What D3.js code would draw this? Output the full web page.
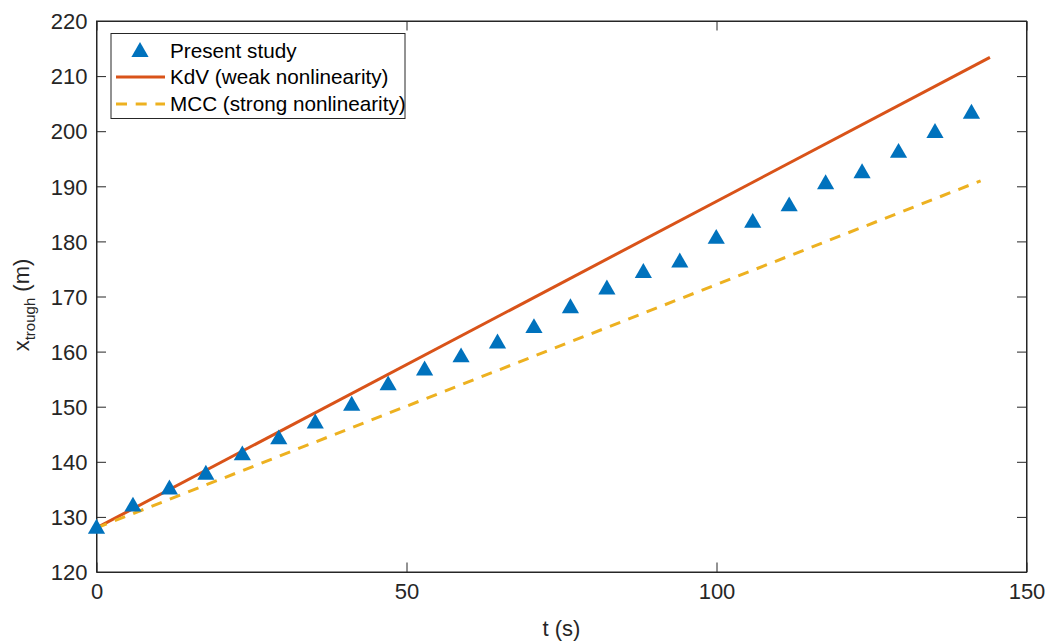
<!DOCTYPE html>
<html>
<head>
<meta charset="utf-8">
<script src="https://cdn.jsdelivr.net/npm/d3@7"></script>
<style>
  html, body { margin: 0; padding: 0; background: #fff; }
  svg { display: block; font-family: "Liberation Sans", Arial, Helvetica, sans-serif; }
</style>
</head>
<body>
<svg id="chart" width="1050" height="644"></svg>
<script>
// Trough position over time: simulated points and two analytic predictions
const tPresent = [0, 5.88, 11.76, 17.64, 23.52, 29.4, 35.28, 41.16, 47.04, 52.92,
                  58.8, 64.68, 70.56, 76.44, 82.32, 88.2, 94.08, 99.96, 105.84,
                  111.72, 117.6, 123.48, 129.36, 135.24, 141.12];
const xPresent = [128.1, 132.1, 135.2, 137.9, 141.4, 144.3, 147.2, 150.4, 154.1, 156.8,
                  159.2, 161.7, 164.5, 168.1, 171.5, 174.5, 176.4, 180.7, 183.6,
                  186.6, 190.6, 192.6, 196.3, 199.9, 203.4];
const tKdV = [0, 144.1];
const xKdV = [128.0, 213.4];
const tMCC = [0, 142.6];
const xMCC = [128.0, 191.0];

const xTicks = [0, 50, 100, 150];
const yTicks = [120, 130, 140, 150, 160, 170, 180, 190, 200, 210, 220];
const legendLabels = ["Present study", "KdV (weak nonlinearity)", "MCC (strong nonlinearity)"];

const colors = { present: "#0072BD", kdv: "#D95319", mcc: "#EDB120", axis: "#262626" };

const plot = { left: 96.5, right: 1026.5, top: 21, bottom: 572 };
const svg = d3.select("#chart");

const x = d3.scaleLinear().domain([0, 150]).range([plot.left, plot.right]);
const y = d3.scaleLinear().domain([120, 220]).range([plot.bottom, plot.top]);

const tickLen = 9.5;
const tickFont = 22;
const dash = "11,8.7";

// Axes with inward ticks on all four sides
const gBottom = svg.append("g").attr("transform", `translate(0,${plot.bottom})`)
  .call(d3.axisBottom(x).tickValues(xTicks).tickSizeInner(-tickLen).tickSizeOuter(0));
const gTop = svg.append("g").attr("transform", `translate(0,${plot.top})`)
  .call(d3.axisTop(x).tickValues(xTicks).tickSizeInner(-tickLen).tickSizeOuter(0).tickFormat(""));
const gLeft = svg.append("g").attr("transform", `translate(${plot.left},0)`)
  .call(d3.axisLeft(y).tickValues(yTicks).tickSizeInner(-tickLen).tickSizeOuter(0).tickPadding(9));
const gRight = svg.append("g").attr("transform", `translate(${plot.right},0)`)
  .call(d3.axisRight(y).tickValues(yTicks).tickSizeInner(-tickLen).tickSizeOuter(0).tickFormat(""));

[gBottom, gTop, gLeft, gRight].forEach(g => {
  g.select(".domain").attr("stroke", colors.axis).attr("stroke-width", 1);
  g.selectAll(".tick line").attr("stroke", colors.axis).attr("stroke-width", 1);
  g.selectAll(".tick text")
    .attr("fill", colors.axis)
    .attr("font-size", tickFont)
    .attr("font-family", "Liberation Sans, Arial, Helvetica, sans-serif");
});
gBottom.selectAll(".tick text").attr("dy", "0.71em").attr("y", 11);
gLeft.selectAll(".tick text").attr("dy", "0.35em");

// Frame
svg.append("rect")
  .attr("x", plot.left).attr("y", plot.top)
  .attr("width", plot.right - plot.left).attr("height", plot.bottom - plot.top)
  .attr("fill", "none").attr("stroke", colors.axis).attr("stroke-width", 1);

// Prediction lines
const line = d3.line().x(d => x(d[0])).y(d => y(d[1]));
svg.append("path")
  .datum(d3.zip(tKdV, xKdV))
  .attr("d", line)
  .attr("fill", "none").attr("stroke", colors.kdv).attr("stroke-width", 3);
svg.append("path")
  .datum(d3.zip(tMCC, xMCC))
  .attr("d", line)
  .attr("fill", "none").attr("stroke", colors.mcc).attr("stroke-width", 3)
  .attr("stroke-dasharray", dash);

// Triangle markers
const tri = d3.symbol().type(d3.symbolTriangle).size(128);
svg.append("g").selectAll("path")
  .data(d3.zip(tPresent, xPresent))
  .join("path")
  .attr("d", tri)
  .attr("transform", d => `translate(${x(d[0])},${y(d[1]) + 1.3})`)
  .attr("fill", colors.present);

// Axis titles
svg.append("text")
  .attr("x", (plot.left + plot.right) / 2).attr("y", 636)
  .attr("text-anchor", "middle")
  .attr("font-size", 22).attr("fill", colors.axis)
  .text("t (s)");

const yl = svg.append("text")
  .attr("transform", `translate(29,305) rotate(-90)`)
  .attr("text-anchor", "middle")
  .attr("font-size", 22).attr("fill", colors.axis);
yl.append("tspan").text("x");
yl.append("tspan").attr("font-size", 15).attr("dy", 6).text("trough");
yl.append("tspan").attr("dy", -6).text(" (m)");

// Legend
const legend = svg.append("g");
legend.append("rect")
  .attr("x", 111).attr("y", 33.5).attr("width", 294).attr("height", 85)
  .attr("fill", "#fff").attr("stroke", colors.axis).attr("stroke-width", 1);
const rowY = [51, 77, 104];
legend.append("path")
  .attr("d", tri)
  .attr("transform", `translate(140,${rowY[0] + 1})`)
  .attr("fill", colors.present);
legend.append("line")
  .attr("x1", 116).attr("x2", 165).attr("y1", rowY[1]).attr("y2", rowY[1])
  .attr("stroke", colors.kdv).attr("stroke-width", 3);
legend.append("line")
  .attr("x1", 116).attr("x2", 165).attr("y1", rowY[2]).attr("y2", rowY[2])
  .attr("stroke", colors.mcc).attr("stroke-width", 3).attr("stroke-dasharray", dash);
legend.selectAll("text.lbl")
  .data(legendLabels)
  .join("text")
  .attr("class", "lbl")
  .attr("x", 170).attr("y", (d, i) => rowY[i])
  .attr("dy", "0.35em")
  .attr("font-size", 20.7).attr("fill", "#000")
  .text(d => d);
</script>
</body>
</html>
